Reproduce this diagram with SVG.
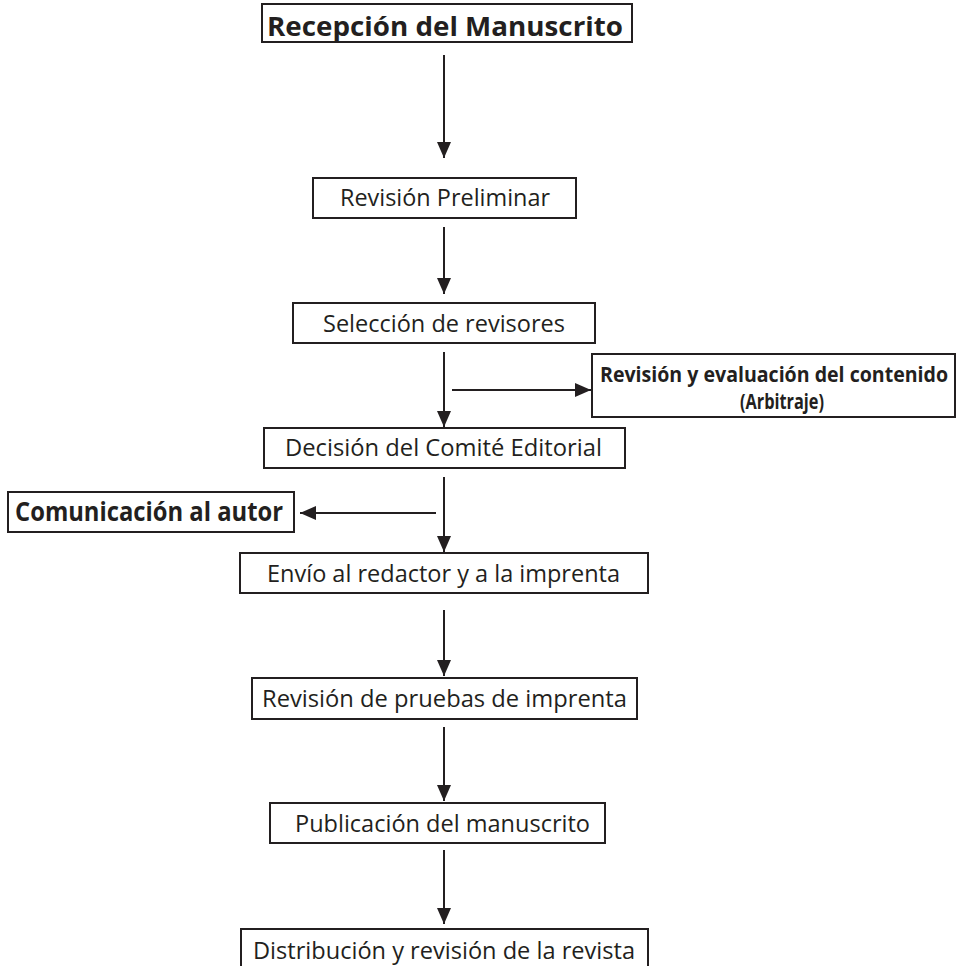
<svg xmlns="http://www.w3.org/2000/svg" width="957" height="966" viewBox="0 0 957 966">
<defs>
<style>
.box{fill:#fff;stroke:#231f20;stroke-width:2}
.t{font-family:"Open Sans","Liberation Sans",sans-serif;font-size:23.5px;fill:#231f20;text-anchor:middle}
.b{font-family:"Open Sans","Liberation Sans",sans-serif;font-weight:bold;fill:#231f20;text-anchor:middle}
.c{stroke:#231f20;stroke-width:2;fill:none;marker-end:url(#ah)}
</style>
<marker id="ah" viewBox="0 0 16 14" refX="16" refY="7" markerWidth="16" markerHeight="14" markerUnits="userSpaceOnUse" orient="auto">
<path d="M0,0 L16,7 L0,14 Z" fill="#231f20"/>
</marker>
</defs>
<rect width="957" height="966" fill="#fff"/>
<g id="connectors">
<line class="c" x1="444" y1="55" x2="444" y2="158"/>
<line class="c" x1="444" y1="227" x2="444" y2="294"/>
<line class="c" x1="444" y1="352" x2="444" y2="427"/>
<line class="c" x1="452" y1="390" x2="591" y2="390"/>
<line class="c" x1="436" y1="513" x2="300" y2="513"/>
<line class="c" x1="444" y1="477" x2="444" y2="552"/>
<line class="c" x1="444" y1="610" x2="444" y2="676"/>
<line class="c" x1="444" y1="727" x2="444" y2="801"/>
<line class="c" x1="444" y1="850" x2="444" y2="924"/>
</g>
<g id="recepcion">
<rect class="box" x="262" y="4" width="370" height="38"/>
<text class="b" x="445" y="36" font-size="27" textLength="356" lengthAdjust="spacingAndGlyphs">Recepción del Manuscrito</text>
</g>
<g id="revision-preliminar">
<rect class="box" x="313" y="178" width="263" height="40"/>
<text class="t" x="445" y="206" textLength="210" lengthAdjust="spacingAndGlyphs">Revisión Preliminar</text>
</g>
<g id="seleccion">
<rect class="box" x="293" y="303" width="302" height="40"/>
<text class="t" x="444" y="332" textLength="242" lengthAdjust="spacingAndGlyphs">Selección de revisores</text>
</g>
<g id="arbitraje">
<rect class="box" x="592" y="354" width="363" height="63"/>
<text class="b" x="774" y="382" font-size="21" textLength="348" lengthAdjust="spacingAndGlyphs">Revisión y evaluación del contenido</text>
<text class="b" x="782" y="409" font-size="21" textLength="84" lengthAdjust="spacingAndGlyphs">(Arbitraje)</text>
</g>
<g id="decision">
<rect class="box" x="264" y="428" width="361" height="40"/>
<text class="t" x="443.5" y="456" textLength="317" lengthAdjust="spacingAndGlyphs">Decisión del Comité Editorial</text>
</g>
<g id="comunicacion">
<rect class="box" x="8" y="492" width="286" height="40"/>
<text class="b" x="149" y="521" font-size="27" textLength="268" lengthAdjust="spacingAndGlyphs">Comunicación al autor</text>
</g>
<g id="envio">
<rect class="box" x="240" y="553" width="408" height="40"/>
<text class="t" x="443.5" y="582" textLength="353" lengthAdjust="spacingAndGlyphs">Envío al redactor y a la imprenta</text>
</g>
<g id="pruebas">
<rect class="box" x="252" y="678" width="385" height="41"/>
<text class="t" x="444.5" y="707" textLength="365" lengthAdjust="spacingAndGlyphs">Revisión de pruebas de imprenta</text>
</g>
<g id="publicacion">
<rect class="box" x="270" y="803" width="335" height="40"/>
<text class="t" x="442.5" y="832" textLength="295" lengthAdjust="spacingAndGlyphs">Publicación del manuscrito</text>
</g>
<g id="distribucion">
<rect class="box" x="241" y="929" width="407" height="46"/>
<text class="t" x="444" y="959" textLength="382" lengthAdjust="spacingAndGlyphs">Distribución y revisión de la revista</text>
</g>
</svg>
